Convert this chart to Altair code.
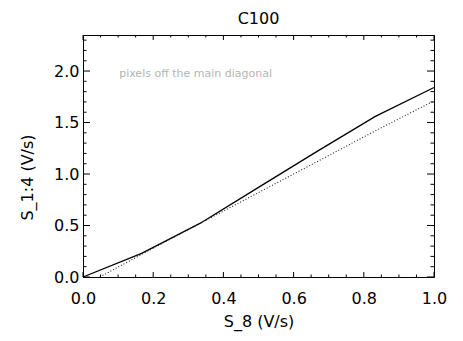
import altair as alt
import pandas as pd

# ---- data ----
s8_solid = [0.0, 0.167, 0.333, 0.5, 0.667, 0.833, 1.0]
s14_solid = [0.0, 0.23, 0.52, 0.87, 1.22, 1.56, 1.84]

s8_dotted = [0.048, 0.167, 0.333, 0.5, 0.667, 0.833, 1.0]
s14_dotted = [0.0, 0.22, 0.52, 0.82, 1.12, 1.42, 1.71]

x_major = [0.0, 0.2, 0.4, 0.6, 0.8, 1.0]
x_minor = [0.05, 0.1, 0.15, 0.25, 0.3, 0.35, 0.45, 0.5, 0.55,
           0.65, 0.7, 0.75, 0.85, 0.9, 0.95]
y_major = [0.0, 0.5, 1.0, 1.5, 2.0]
y_minor = [0.1, 0.2, 0.3, 0.4, 0.6, 0.7, 0.8, 0.9, 1.1, 1.2, 1.3, 1.4,
           1.6, 1.7, 1.8, 1.9, 2.1, 2.2, 2.3]

note_text = ["pixels off the main diagonal"]

W, H = 351, 242
FONT = "DejaVu Sans"

solid_df = pd.DataFrame({"s8": s8_solid, "s14": s14_solid})
dotted_df = pd.DataFrame({"s8": s8_dotted, "s14": s14_dotted})

xscale = alt.Scale(domain=[0, 1], nice=False, zero=False)
yscale = alt.Scale(domain=[0, 2.35], nice=False, zero=False)

xaxis = alt.Axis(values=x_major, format=".1f", ticks=False, domain=False, grid=False,
                 labelFont=FONT, labelFontSize=16, labelColor="black", labelPadding=13,
                 labelFlush=False,
                 title="S_8 (V/s)", titleFont=FONT, titleFontSize=16, titleFontWeight="normal",
                 titleColor="black", titlePadding=7)
yaxis = alt.Axis(values=y_major, format=".1f", ticks=False, domain=False, grid=False,
                 labelFont=FONT, labelFontSize=16, labelColor="black", labelPadding=4,
                 title="S_1:4 (V/s)", titleFont=FONT, titleFontSize=16, titleFontWeight="normal",
                 titleColor="black", titlePadding=18, titleY=142)


def X(field):
    return alt.X(field, type="quantitative", scale=xscale, axis=xaxis)


def Y(field):
    return alt.Y(field, type="quantitative", scale=yscale, axis=yaxis)


solid = alt.Chart(solid_df).mark_line(color="black", strokeWidth=1.3).encode(
    x=X("s8"), y=Y("s14"))
dotted = alt.Chart(dotted_df).mark_line(color="#222222", strokeWidth=1.1, strokeDash=[1, 2]).encode(
    x=X("s8"), y=Y("s14"))


def xticks(vals, length):
    d = pd.DataFrame({"v": vals})
    bottom = alt.Chart(d).mark_rule(color="black", strokeWidth=1).encode(
        x=X("v"), y=alt.value(H), y2=alt.value(H - length))
    top = alt.Chart(d).mark_rule(color="black", strokeWidth=1).encode(
        x=X("v"), y=alt.value(0), y2=alt.value(length))
    return [bottom, top]


def yticks(vals, length):
    d = pd.DataFrame({"v": vals})
    left = alt.Chart(d).mark_rule(color="black", strokeWidth=1).encode(
        y=Y("v"), x=alt.value(0), x2=alt.value(length))
    right = alt.Chart(d).mark_rule(color="black", strokeWidth=1).encode(
        y=Y("v"), x=alt.value(W), x2=alt.value(W - length))
    return [left, right]


note_df = pd.DataFrame({"t": note_text, "nx": [0.103], "ny": [1.94]})
note = alt.Chart(note_df).mark_text(
    font=FONT, fontSize=11, color="#b4b4b4", align="left", baseline="alphabetic"
).encode(x=X("nx"), y=Y("ny"), text="t:N")

layers = [solid, dotted] + xticks(x_major, 5) + xticks(x_minor, 2.5) \
    + yticks(y_major, 7) + yticks(y_minor, 3.5) + [note]

chart = alt.layer(*layers).properties(
    width=W, height=H,
    title=alt.TitleParams("C100", font=FONT, fontSize=16, fontWeight="normal", color="black",
                          anchor="middle", offset=8),
    padding={"left": 11, "top": 2, "right": 0, "bottom": 4},
).configure_view(stroke="black", strokeWidth=1)

chart.save("out.html", embed_options={"renderer": "svg", "actions": False})
